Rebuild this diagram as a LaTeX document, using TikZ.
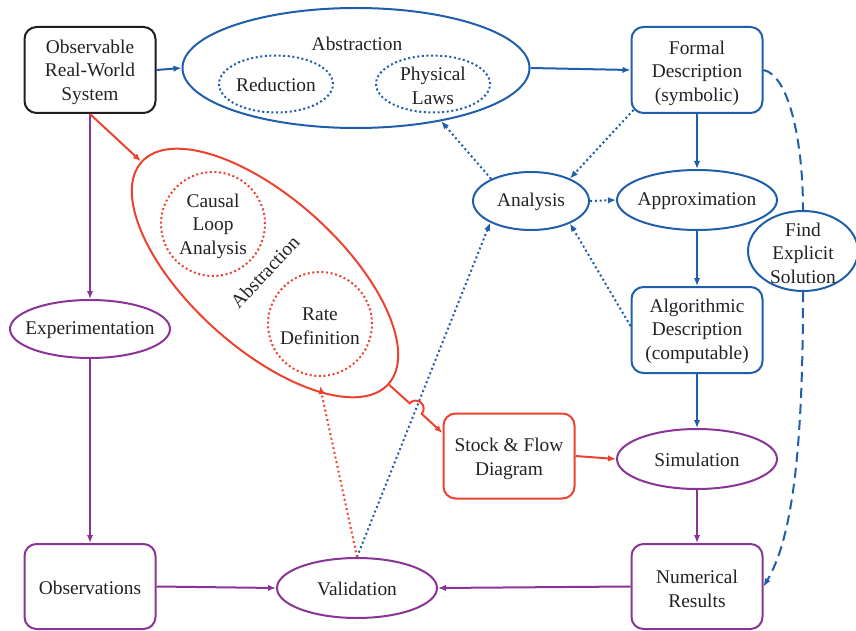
\documentclass[tikz,border=0pt]{standalone}
\usepackage{fontspec}
\setmainfont{Liberation Serif}
\newfontfamily\diagfont{Liberation Serif}
\usetikzlibrary{shapes.geometric,arrows.meta,calc}

\definecolor{cblue}{RGB}{31,94,170}
\definecolor{cred}{RGB}{236,66,48}
\definecolor{cpurple}{RGB}{138,52,150}
\definecolor{ctext}{RGB}{34,34,34}
\definecolor{cblack}{RGB}{30,30,30}

\begin{document}
\begin{tikzpicture}[x=1pt,y=-1pt,
  every node/.style={text=ctext,font=\diagfont\fontsize{19.4}{23.5}\selectfont},
  lbl/.style={align=center,inner sep=0pt},
  rbox/.style={draw,rectangle,rounded corners=12pt,line width=2pt,
    minimum width=131pt,minimum height=86pt,inner sep=0pt,align=center},
  oval/.style={draw,ellipse,line width=2pt,inner sep=0pt},
  dotoval/.style={draw,ellipse,line width=2pt,inner sep=0pt,
    dash pattern=on 2pt off 2.6pt},
  tip/.style={-{Latex[length=8pt,width=6.5pt]}},
  conn/.style={line width=2pt,tip},
  dotconn/.style={line width=2pt,tip,dash pattern=on 2pt off 2.8pt},
  dashconn/.style={line width=2pt,dash pattern=on 10pt off 6pt},
]
\useasboundingbox (0,0) rectangle (856,631);

% ---------- top row ----------
\node[rbox,draw=cblack] (obs) at (90,70) {};
\node[lbl] at (90,72) {Observable\\Real-World\\System};

\node[oval,draw=cblue,minimum width=347pt,minimum height=120pt] (abs) at (356,68) {};
\node[lbl] at (357,44) {Abstraction};
\node[dotoval,draw=cblue,minimum width=114pt,minimum height=57pt] (red) at (276,84) {};
\node[lbl] at (276,85) {Reduction};
\node[dotoval,draw=cblue,minimum width=114pt,minimum height=57pt] (phys) at (433,84) {};
\node[lbl] at (433,86) {Physical\\Laws};

\node[rbox,draw=cblue] (formal) at (697,70) {};
\node[lbl] at (697,73) {Formal\\Description\\(symbolic)};

% ---------- right column ----------
\node[oval,draw=cblue,minimum width=160pt,minimum height=60pt] (approx) at (697,200) {};
\node[lbl] at (697,201) {Approximation};
\node[oval,draw=cblue,minimum width=116pt,minimum height=58pt] (anal) at (531,201) {};
\node[lbl] at (531,202) {Analysis};
\node[oval,draw=cblue,minimum width=110pt,minimum height=80pt] (find) at (803,251) {};
\node[lbl] at (803,253) {Find\\Explicit\\Solution};
\node[rbox,draw=cblue] (algo) at (697,330) {};
\node[lbl] at (697,331) {Algorithmic\\Description\\(computable)};
\node[oval,draw=cpurple,minimum width=160pt,minimum height=60pt] (sim) at (697,459) {};
\node[lbl] at (697,460) {Simulation};
\node[rbox,draw=cpurple,minimum height=85pt] (num) at (697,586.5) {};
\node[lbl] at (697,589) {Numerical\\Results};

% ---------- left column and bottom ----------
\node[oval,draw=cpurple,minimum width=160pt,minimum height=58pt] (exper) at (90,329) {};
\node[lbl] at (90,330) {Experimentation};
\node[rbox,draw=cpurple,minimum height=85pt] (obsv) at (90,586.5) {};
\node[lbl] at (90,588) {Observations};
\node[oval,draw=cpurple,minimum width=160pt,minimum height=60pt] (val) at (357,588) {};
\node[lbl] at (357,589) {Validation};

% ---------- system dynamics branch ----------
\node[oval,draw=cred,minimum width=332pt,minimum height=150pt,rotate=-42] (redell) at (265,273) {};
\node[lbl,rotate=47] at (265,272) {Abstraction};
\node[draw=cred,circle,line width=2pt,dash pattern=on 2pt off 2.6pt,
      minimum size=104pt,inner sep=0pt] (cla) at (213,224) {};
\node[lbl] at (213,226) {Causal\\Loop\\Analysis};
\node[draw=cred,circle,line width=2pt,dash pattern=on 2pt off 2.6pt,
      minimum size=104pt,inner sep=0pt] (rate) at (320,324) {};
\node[lbl] at (320,326) {Rate\\Definition};
\node[rbox,draw=cred,minimum height=85pt] (stock) at (509,456) {};
\node[lbl] at (509,459) {Stock \& Flow\\Diagram};

\coordinate (sfin) at (stock.west |- 0,433);
\coordinate (redin) at (320,386);

% ---------- connectors ----------
\draw[conn,cblue] (obs.east) -- (abs.west);
\draw[conn,cblue] (abs.east) -- (formal.west);
\draw[conn,cblue] (formal.south) -- (approx.north);
\draw[conn,cblue] (approx.south) -- (algo.north);
\draw[conn,cblue] (algo.south) -- (sim.north);
\draw[conn,cpurple] (sim.south) -- (num.north);
\draw[conn,cpurple] (num.west) -- (val.east);
\draw[conn,cpurple] (obsv.east) -- (val.west);
\draw[conn,cpurple] (obs.south) -- (exper.north);
\draw[conn,cpurple] (exper.south) -- (obsv.north);
\draw[conn,cred] (obs.south) -- (redell.west);
\draw[conn,cred] (stock.east) -- (sim.west);

% dotted feedback links
\draw[dotconn,cblue] (val.north) -- (anal.208);
\draw[dotconn,cred] (val.north) -- (redin);
\draw[dotconn,cblue] (anal.151) -- (abs.-32);
\draw[dotconn,cblue] ([shift={(3,-4)}]formal.south west) -- (anal.30);
\draw[dotconn,cblue] ([yshift=4pt]algo.west) -- (anal.-30);
\draw[dotconn,cblue] (anal.east) -- (approx.west);

% red link hopping over the dotted line
\coordinate (hop) at ($(redell.east)!0.496!(sfin)$);
\draw[conn,cred] (redell.east) -- ($(hop)!8pt!(redell.east)$)
  arc[start angle=221.1,end angle=401.1,radius=8] -- (sfin);

% explicit solution path
\draw[dashconn,cblue] (formal.east) .. controls +(25,5) and +(0,-70) .. (find.north);
\draw[dashconn,cblue,tip] (find.south) .. controls +(0,150) and +(30,-50) .. (num.east);
\end{tikzpicture}
\end{document}
